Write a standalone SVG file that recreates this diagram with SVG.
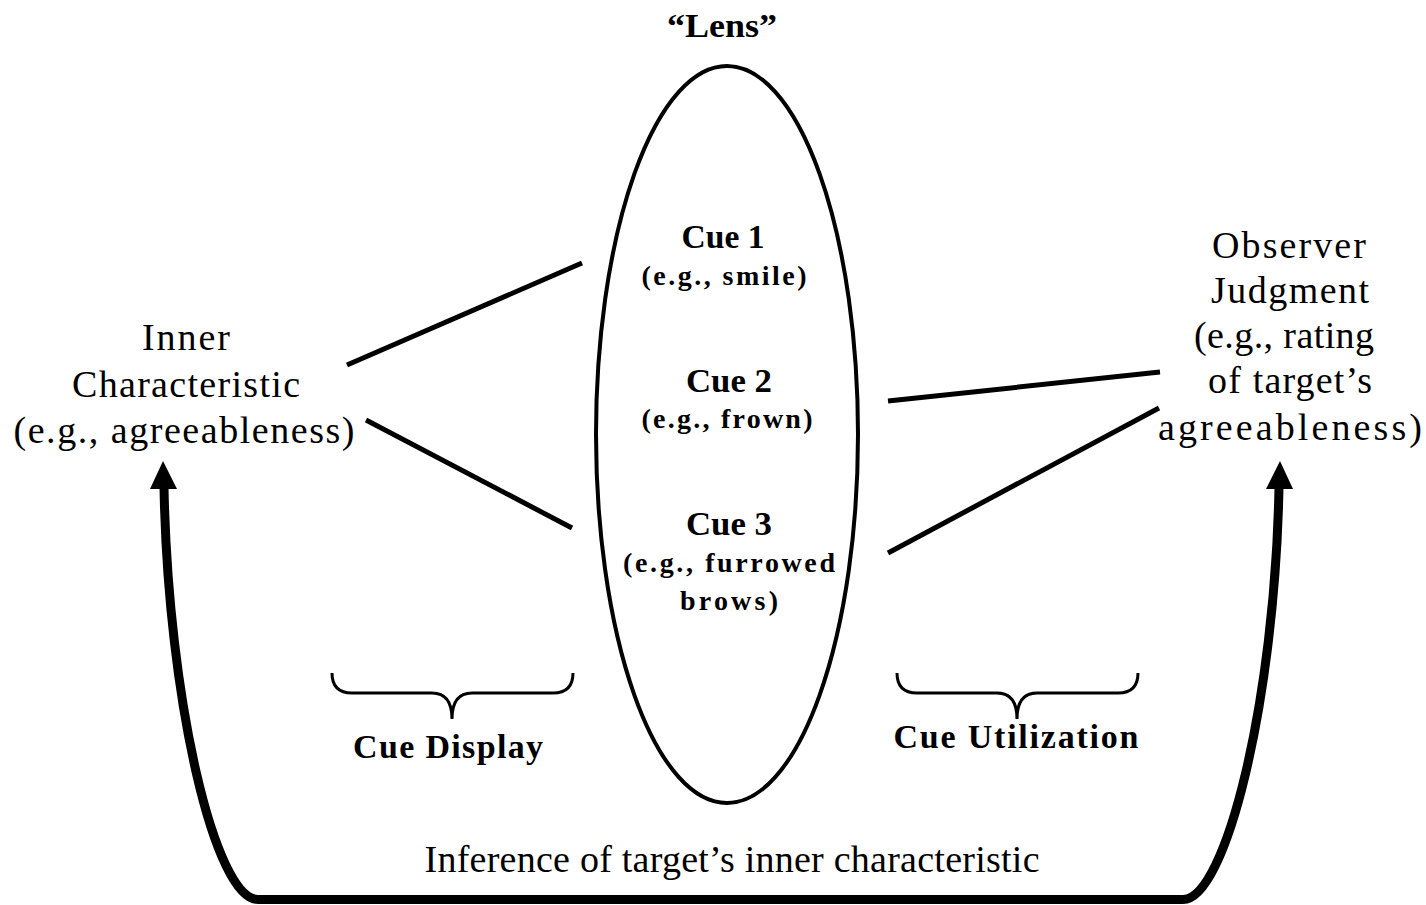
<svg xmlns="http://www.w3.org/2000/svg" width="1426" height="905" viewBox="0 0 1426 905">
<style>
text{font-family:"Liberation Serif",Tinos,"Times New Roman",Times,serif;fill:#000;text-anchor:middle}
.r{font-size:38px}
.b{font-weight:bold;font-size:34px}
.s{font-weight:bold;font-size:28px}
.ln{stroke:#000;stroke-width:5;fill:none}
.br{stroke:#000;stroke-width:3;fill:none}
.ar{stroke:#000;stroke-width:9;fill:none}
.hd{fill:#000}
</style>
<rect width="1426" height="905" fill="#fff"/>
<g id="lens">
<ellipse cx="727" cy="434.5" rx="131" ry="368.5" fill="none" stroke="#000" stroke-width="4"/>
<text class="b" x="722" y="37" textLength="110" lengthAdjust="spacingAndGlyphs">“Lens”</text>
</g>
<g id="cue1">
<text class="b" x="723" y="248" textLength="83" lengthAdjust="spacingAndGlyphs">Cue 1</text>
<text class="s" x="724" y="285" textLength="165" lengthAdjust="spacing">(e.g., smile)</text>
</g>
<g id="cue2">
<text class="b" x="729" y="392" textLength="86" lengthAdjust="spacingAndGlyphs">Cue 2</text>
<text class="s" x="727" y="428" textLength="171" lengthAdjust="spacing">(e.g., frown)</text>
</g>
<g id="cue3">
<text class="b" x="729" y="535" textLength="86" lengthAdjust="spacingAndGlyphs">Cue 3</text>
<text class="s" x="729" y="572" textLength="212" lengthAdjust="spacing">(e.g., furrowed</text>
<text class="s" x="729" y="610" textLength="98" lengthAdjust="spacing">brows)</text>
</g>
<g id="inner">
<text class="r" x="186" y="350" textLength="88" lengthAdjust="spacing">Inner</text>
<text class="r" x="186" y="397" textLength="228" lengthAdjust="spacing">Characteristic</text>
<text class="r" x="184" y="443" textLength="341" lengthAdjust="spacing">(e.g., agreeableness)</text>
</g>
<g id="observer">
<text class="r" x="1289" y="258" textLength="154" lengthAdjust="spacing">Observer</text>
<text class="r" x="1290" y="303" textLength="158" lengthAdjust="spacing">Judgment</text>
<text class="r" x="1284" y="348" textLength="180" lengthAdjust="spacing">(e.g., rating</text>
<text class="r" x="1290" y="393" textLength="164" lengthAdjust="spacing">of target’s</text>
<text class="r" x="1290" y="440" textLength="264" lengthAdjust="spacing">agreeableness)</text>
</g>
<g id="cue-display">
<path class="br" d="M332,673 Q332,693 352,693 L432,693 Q452,693 452,719 Q452,693 472,693 L553,693 Q573,693 573,673"/>
<text class="b" x="448" y="758" textLength="190" lengthAdjust="spacing">Cue Display</text>
</g>
<g id="cue-utilization">
<path class="br" d="M897,673 Q897,693 917,693 L997,693 Q1017,693 1017,719 Q1017,693 1037,693 L1118,693 Q1138,693 1138,673"/>
<text class="b" x="1016" y="748" textLength="245" lengthAdjust="spacing">Cue Utilization</text>
</g>
<g id="inference-label">
<text class="r" x="732" y="872" textLength="615" lengthAdjust="spacing">Inference of target’s inner characteristic</text>
</g>
<g id="connectors">
<line class="ln" x1="347" y1="365" x2="582" y2="263"/>
<line class="ln" x1="366" y1="420" x2="572" y2="528"/>
<line class="ln" x1="888" y1="401" x2="1160" y2="372"/>
<line class="ln" x1="888" y1="553" x2="1159" y2="408"/>
<path class="ar" d="M720,899.5 L258,899.5 C215,899.5 168,700 164,487"/>
<polygon class="hd" points="163,461 177,489 150,489"/>
<path class="ar" d="M720,899.5 L1183,899.5 C1226,899.5 1275,700 1279,487"/>
<polygon class="hd" points="1280,461 1293,489 1266,489"/>
</g>
</svg>
